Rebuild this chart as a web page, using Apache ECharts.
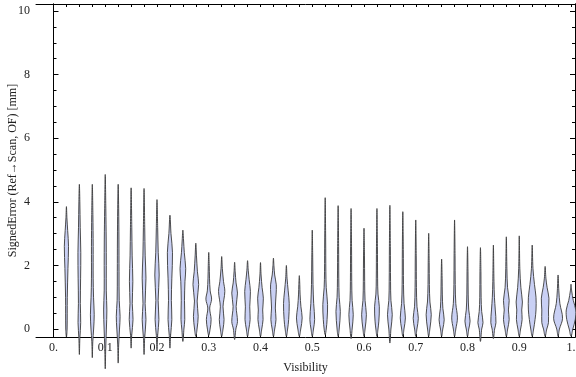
<!DOCTYPE html>
<html>
<head>
<meta charset="utf-8">
<script src="https://cdn.jsdelivr.net/npm/echarts@6/dist/echarts.min.js"></script>
<style>
  html, body { margin: 0; padding: 0; background: #fff; }
  #chart { width: 576px; height: 377px; }
</style>
</head>
<body>
<div id="chart"></div>
<script>
// visibility bins (x position of each violin)
const visibility = [0.025, 0.05, 0.075, 0.1, 0.125, 0.15, 0.175, 0.2, 0.225, 0.25,
    0.275, 0.3, 0.325, 0.35, 0.375, 0.4, 0.425, 0.45, 0.475, 0.5,
    0.525, 0.55, 0.575, 0.6, 0.625, 0.65, 0.675, 0.7, 0.725, 0.75,
    0.775, 0.8, 0.825, 0.85, 0.875, 0.9, 0.925, 0.95, 0.975, 1.0];

// smallest / largest signed error of each bin [mm]
const errMin = [-0.25, -0.8, -0.9, -1.25, -1.07, -0.6, -0.8, -0.65, -0.6, -0.39,
    -0.23, -0.2, -0.23, -0.33, -0.23, -0.23, -0.23, -0.23, -0.23, -0.23,
    -0.18, -0.23, -0.3, -0.23, -0.23, -0.44, -0.23, -0.23, -0.23, -0.23,
    -0.23, -0.23, -0.39, -0.3, -0.23, -0.23, -0.23, -0.23, -0.23, -0.23];
const errMax = [3.85, 4.55, 4.55, 4.86, 4.55, 4.44, 4.42, 4.07, 3.58, 3.11,
    2.7, 2.41, 2.28, 2.1, 2.15, 2.09, 2.23, 2.0, 1.68, 3.11,
    4.13, 3.88, 3.79, 3.17, 3.79, 3.89, 3.69, 3.43, 3.01, 2.2,
    3.43, 2.59, 2.56, 2.64, 2.9, 2.93, 2.64, 1.97, 1.7, 1.41];

// density profile of each bin: [error, relative density]
const density = [
    [[0, 0.7], [1.0, 0.9], [1.9, 1.6], [2.6, 2.2], [3.1, 1.3], [3.5, 0.5]],
    [[-0.3, 0.5], [0.2, 1.4], [0.8, 1.0], [1.6, 1.3], [2.4, 1.5], [3.2, 0.9], [4.0, 0.5]],
    [[-0.4, 0.5], [0, 1.4], [0.45, 2.0], [1.0, 1.3], [1.6, 0.9], [2.6, 0.9], [3.6, 0.6]],
    [[-0.6, 0.5], [0, 1.2], [0.6, 1.7], [1.2, 1.1], [2.0, 1.1], [2.8, 1.0], [3.8, 0.6]],
    [[-0.5, 0.5], [0, 1.4], [0.4, 2.0], [0.9, 1.1], [1.8, 0.9], [2.8, 0.8], [3.8, 0.5]],
    [[-0.2, 0.6], [0.3, 2.0], [0.8, 1.2], [1.5, 1.8], [2.3, 1.1], [3.2, 0.7]],
    [[-0.3, 0.6], [0.3, 2.0], [0.8, 1.1], [1.6, 2.0], [2.3, 1.2], [3.2, 0.7]],
    [[-0.2, 0.7], [0.3, 2.0], [0.9, 1.2], [1.7, 2.3], [2.4, 1.3], [3.2, 0.7]],
    [[-0.2, 0.7], [0.3, 2.0], [0.9, 1.5], [1.6, 2.0], [2.4, 2.7], [3.0, 1.1]],
    [[0, 1.1], [0.3, 2.0], [0.9, 1.7], [1.5, 2.2], [1.9, 3.0], [2.4, 1.5], [2.8, 0.7]],
    [[0, 1.3], [0.4, 2.5], [0.88, 1.4], [1.4, 3.0], [1.8, 1.7], [2.3, 0.7]],
    [[0, 1.4], [0.3, 2.5], [0.66, 1.0], [0.94, 3.0], [1.2, 1.5], [1.6, 0.8], [2.0, 0.5]],
    [[0, 1.4], [0.3, 2.5], [0.7, 1.4], [1.18, 3.3], [1.5, 1.9], [1.9, 0.7]],
    [[0, 1.3], [0.24, 3.0], [0.71, 1.6], [1.13, 3.0], [1.45, 1.5], [1.8, 0.6]],
    [[0, 1.3], [0.3, 2.7], [0.7, 2.3], [1.18, 3.0], [1.55, 1.7], [1.85, 0.7]],
    [[0, 1.3], [0.3, 2.7], [0.6, 2.3], [0.97, 3.0], [1.3, 1.7], [1.7, 0.6]],
    [[0, 1.3], [0.3, 2.7], [0.66, 2.0], [1.1, 2.8], [1.39, 3.0], [1.7, 1.3], [2.0, 0.5]],
    [[0, 1.3], [0.3, 2.4], [0.8, 3.0], [1.2, 1.9], [1.6, 0.7]],
    [[0, 1.5], [0.35, 3.0], [0.7, 1.7], [1.1, 0.8], [1.4, 0.5]],
    [[0, 1.3], [0.3, 2.5], [0.8, 1.5], [1.4, 0.8], [2.2, 0.5]],
    [[0, 1.1], [0.3, 2.0], [0.77, 2.5], [1.3, 1.1], [1.8, 0.7], [2.8, 0.5]],
    [[0, 1.1], [0.55, 2.3], [1.0, 1.1], [1.6, 0.7], [2.6, 0.5]],
    [[0, 1.1], [0.45, 2.3], [0.9, 1.1], [1.5, 0.7], [2.6, 0.5]],
    [[0, 1.1], [0.45, 2.5], [0.9, 1.1], [1.5, 0.7], [2.3, 0.5]],
    [[0, 1.1], [0.25, 2.0], [0.7, 2.5], [1.1, 1.1], [1.6, 0.7], [2.6, 0.5]],
    [[0, 1.1], [0.45, 2.5], [0.9, 1.1], [1.5, 0.7], [2.6, 0.5]],
    [[0, 1.2], [0.35, 2.7], [0.8, 1.3], [1.4, 0.7], [2.5, 0.5]],
    [[0, 1.2], [0.34, 2.7], [0.7, 1.3], [1.3, 0.7], [2.3, 0.5]],
    [[0, 1.2], [0.45, 2.7], [0.85, 1.3], [1.4, 0.7], [2.1, 0.5]],
    [[0, 1.2], [0.29, 2.7], [0.65, 1.3], [1.1, 0.7], [1.6, 0.5]],
    [[0, 1.3], [0.35, 3.0], [0.8, 1.3], [1.4, 0.7], [2.3, 0.5]],
    [[0, 1.3], [0.25, 2.7], [0.6, 1.3], [1.1, 0.7], [1.8, 0.5]],
    [[0, 1.3], [0.2, 2.7], [0.55, 1.3], [1.0, 0.7], [1.8, 0.5]],
    [[0, 1.3], [0.2, 2.7], [0.6, 2.0], [1.0, 1.1], [1.5, 0.6]],
    [[0, 1.4], [0.3, 3.0], [0.6, 2.2], [0.9, 3.0], [1.3, 1.3], [1.9, 0.6]],
    [[0, 1.4], [0.3, 3.0], [0.6, 2.6], [0.85, 3.3], [1.3, 1.7], [1.9, 0.6]],
    [[0, 1.5], [0.3, 3.0], [0.6, 4.0], [1.0, 4.0], [1.4, 2.4], [1.9, 0.8]],
    [[0, 1.7], [0.2, 3.5], [0.6, 3.5], [0.97, 4.0], [1.3, 2.1], [1.6, 0.8]],
    [[0, 1.4], [0.34, 4.7], [0.8, 1.9], [1.2, 0.8]],
    [[0, 1.9], [0.3, 4.5], [0.6, 5.0], [0.9, 2.4], [1.2, 0.7]]
];

// axis ticks and labels
const xLabelValues = [0, 0.1, 0.2, 0.3, 0.4, 0.5, 0.6, 0.7, 0.8, 0.9, 1.0];
const xTickValues = [0, 0.025, 0.05, 0.075, 0.1, 0.125, 0.15, 0.175, 0.2, 0.225, 0.25,
    0.275, 0.3, 0.325, 0.35, 0.375, 0.4, 0.425, 0.45, 0.475, 0.5,
    0.525, 0.55, 0.575, 0.6, 0.625, 0.65, 0.675, 0.7, 0.725, 0.75,
    0.775, 0.8, 0.825, 0.85, 0.875, 0.9, 0.925, 0.95, 0.975, 1.0];
const yLabelValues = [0, 2, 4, 6, 8, 10];
const yMinorValues = [0.5, 1, 1.5, 2.5, 3, 3.5, 4.5, 5, 5.5, 6.5, 7, 7.5, 8.5, 9, 9.5];

const halfWidthPx = 0.95;   // px per density unit
const font = 'Liberation Serif';

const violinData = [];
for (let i = 0; i < visibility.length; i++) {
    violinData.push([visibility[i], errMin[i], errMax[i]]);
}

function renderViolin(params, api) {
    const i = params.dataIndex;
    const x = api.value(0);
    const bottom = api.coord([x, api.value(1)]);
    const top = api.coord([x, api.value(2)]);
    const left = [], right = [];
    density[i].forEach(function (k) {
        const p = api.coord([x, k[0]]);
        left.push([p[0] - k[1] * halfWidthPx, p[1]]);
        right.push([p[0] + k[1] * halfWidthPx, p[1]]);
    });
    const pts = [bottom].concat(right, [top], left.reverse());
    return {
        type: 'polygon',
        shape: { points: pts, smooth: 0.35 },
        style: { fill: '#c9d0f4', stroke: '#3a3a3a', lineWidth: 0.9 }
    };
}

function xFormat(v) {
    if (v === 0) return '0.';
    if (v === 1) return '1.';
    return v.toFixed(1);
}

const lineStyle = { color: '#000', width: 1 };
const labelStyle = { color: '#222', fontFamily: font, fontSize: 12 };

function yAxisDef(pos, ticks, len, withLabels) {
    return {
        type: 'value', min: -0.25, max: 10.22, position: pos,
        axisLine: { show: true, lineStyle: lineStyle },
        axisTick: { show: true, inside: true, length: len, customValues: ticks, lineStyle: lineStyle },
        axisLabel: withLabels
            ? Object.assign({ show: true, margin: 6, customValues: yLabelValues }, labelStyle)
            : { show: false },
        splitLine: { show: false }
    };
}

const chart = echarts.init(document.getElementById('chart'), null, { renderer: 'canvas' });

const y0 = yAxisDef('left', yLabelValues, 5, true);
y0.name = 'SignedError (Ref\u2192Scan, OF) [mm]';
y0.nameLocation = 'middle';
y0.nameGap = 17;
y0.nameMoveOverlap = false;
y0.nameTextStyle = { color: '#222', fontFamily: font, fontSize: 12 };

option = {
    backgroundColor: '#fff',
    animation: false,
    grid: { left: 36, right: 1, top: 4, bottom: 40, containLabel: false, outerBoundsMode: 'none' },
    xAxis: [
        {
            type: 'value', min: -0.0338, max: 1.0077, position: 'bottom',
            name: 'Visibility', nameLocation: 'middle', nameGap: 25, nameMoveOverlap: false,
            nameTextStyle: { color: '#222', fontFamily: font, fontSize: 12 },
            axisLine: { show: true, onZero: false, lineStyle: lineStyle },
            axisTick: { show: true, inside: true, length: 3, customValues: xTickValues, lineStyle: lineStyle },
            axisLabel: Object.assign({ show: true, margin: 5, customValues: xLabelValues, formatter: xFormat }, labelStyle),
            splitLine: { show: false }
        },
        {
            type: 'value', min: -0.0338, max: 1.0077, position: 'top',
            axisLine: { show: true, onZero: false, lineStyle: lineStyle },
            axisTick: { show: true, inside: true, length: 3, customValues: xTickValues, lineStyle: lineStyle },
            axisLabel: { show: false },
            splitLine: { show: false }
        }
    ],
    yAxis: [
        y0,
        yAxisDef('left', yMinorValues, 3, false),
        yAxisDef('right', yLabelValues, 5, false),
        yAxisDef('right', yMinorValues, 3, false)
    ],
    series: [
        {
            type: 'custom',
            xAxisIndex: 0,
            yAxisIndex: 0,
            clip: false,
            renderItem: renderViolin,
            encode: { x: 0, y: [1, 2] },
            data: violinData
        }
    ]
};

chart.setOption(option);
</script>
</body>
</html>
